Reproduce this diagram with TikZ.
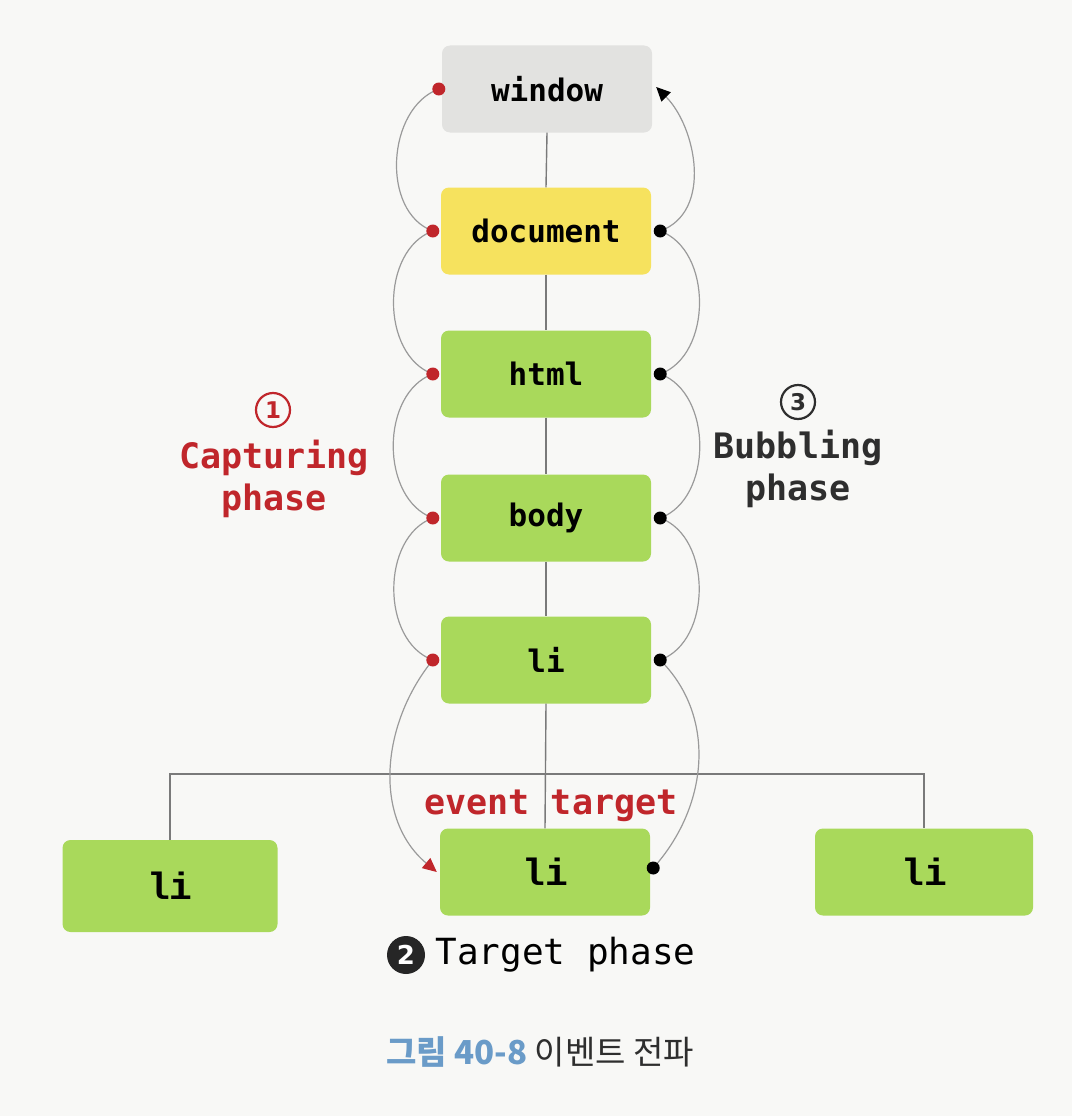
\documentclass[tikz,border=0pt]{standalone}
\usepackage{fontspec}
\usetikzlibrary{arrows.meta}
\newfontfamily\boxfont{DejaVu Sans Mono}
\newfontfamily\slabfont{Liberation Mono}
\newfontfamily\krfont{Noto Sans CJK KR}
\newfontfamily\numfont{DejaVu Sans}
\definecolor{bgcol}{HTML}{F8F8F6}
\definecolor{wincol}{HTML}{E2E2E0}
\definecolor{doccol}{HTML}{F6E25E}
\definecolor{grncol}{HTML}{A9D95B}
\definecolor{capred}{HTML}{C0262B}
\definecolor{bubdark}{HTML}{2E2E2E}
\definecolor{capblue}{HTML}{6A9BC8}
\definecolor{arcgray}{HTML}{9A9A9A}
\definecolor{linegray}{HTML}{7A7A7A}
\tikzset{
  box/.style={rounded corners=8pt, minimum width=210pt, minimum height=87pt, inner sep=0pt,
    font=\boxfont\bfseries\fontsize{31}{33}\selectfont},
  bigbox/.style={box, font=\slabfont\bfseries\fontsize{38}{40}\selectfont},
  arc/.style={draw=arcgray, line width=1.2pt},
  tree/.style={draw=linegray, line width=1.4pt},
  rdot/.style={fill=capred},
  bdot/.style={fill=black},
  lbl/.style={font=\boxfont\bfseries\fontsize{35}{42}\selectfont, align=center},
  numc/.style={circle, line width=2.2pt, minimum size=34pt, inner sep=0pt,
    font=\numfont\bfseries\fontsize{23}{23}\selectfont},
}
\begin{document}
\begin{tikzpicture}[x=1pt,y=1pt]
\fill[bgcol] (0,0) rectangle (1072,-1116);
\useasboundingbox (0,0) rectangle (1072,-1116);

\coordinate (junc) at (546,-774);
\node[box, fill=wincol] (win) at (547,-89) {window};
\node[box, fill=doccol] (doc) at (546,-231) {document};
\node[box, fill=grncol] (html) at (546,-374) {html};
\node[box, fill=grncol] (body) at (546,-518) {body};
\node[box, fill=grncol] (li) at (546,-660) {li};
\node[bigbox, fill=grncol] (tli) at (545,-872) {li};
\node[bigbox, fill=grncol, minimum width=215pt, minimum height=92pt] (lli) at (170,-886) {li};
\node[bigbox, fill=grncol, minimum width=218pt] (rli) at (924,-872) {li};

\draw[tree] (win.south) -- (doc.north);
\draw[tree] (doc.south) -- (html.north);
\draw[tree] (html.south) -- (body.north);
\draw[tree] (body.south) -- (li.north);
\draw[tree] (li.south) -- (tli.north);
\draw[tree] (lli.north) |- (junc) -| (rli.north);

% dot coordinates
\coordinate (cw) at ([xshift=-3pt]win.west);
\coordinate (cd) at ([xshift=-8pt]doc.west);
\coordinate (ch) at ([xshift=-8pt]html.west);
\coordinate (cb) at ([xshift=-8pt]body.west);
\coordinate (cl) at ([xshift=-8pt]li.west);
\coordinate (ct) at ([xshift=-3pt]tli.west);
\coordinate (bw) at ([xshift=4pt,yshift=2pt]win.east);
\coordinate (bd) at ([xshift=9pt]doc.east);
\coordinate (bh) at ([xshift=9pt]html.east);
\coordinate (bb) at ([xshift=9pt]body.east);
\coordinate (bl) at ([xshift=9pt]li.east);
\coordinate (bt) at ([xshift=3pt,yshift=4pt]tli.east);

% capturing arcs
\draw[arc] (cw) to[out=200,in=160] (cd);
\draw[arc] (cd) to[out=200,in=160] (ch);
\draw[arc] (ch) to[out=200,in=160] (cb);
\draw[arc] (cb) to[out=200,in=160] (cl);
\draw[arc, -{Triangle[length=14pt,width=13pt,color=capred]}]
  (cl) to[out=231,in=140] (ct);

% bubbling arcs
\draw[arc] (bt) to[out=48,in=-45] (bl);
\draw[arc] (bl) to[out=20,in=-20] (bb);
\draw[arc] (bb) to[out=20,in=-20] (bh);
\draw[arc] (bh) to[out=20,in=-20] (bd);
\draw[arc, -{Triangle[length=14pt,width=13pt,color=black]}] (bd) to[out=20,in=-45] (bw);

% dots
\foreach \p in {cw,cd,ch,cb,cl} \fill[rdot] (\p) circle (6.5pt);
\foreach \p in {bd,bh,bb,bl,bt} \fill[bdot] (\p) circle (6.5pt);

% labels
\node[numc, draw=capred, text=capred] (c1) at (273,-410) {1};
\node[lbl, text=capred] (cap) at (274,-479) {Capturing\\phase};
\node[numc, draw=bubdark, text=bubdark] (c3) at (798,-402) {3};
\node[lbl, text=bubdark] (bub) at (798,-469) {Bubbling\\phase};
\node[lbl, text=capred] (evt) at (551,-806) {event target};
\node[circle, fill=black!85, minimum size=38pt, inner sep=0pt, text=white,
  font=\numfont\bfseries\fontsize{26}{26}\selectfont] (c2) at (406,-955) {2};
\node[font=\boxfont\fontsize{36}{38}\selectfont, anchor=west] (tp) at (432,-955) {Target phase};
\node[font=\krfont\fontsize{33}{35}\selectfont] (cap2) at (540,-1052)
  {{\color{capblue}\bfseries 그림 40-8} {\color{bubdark}이벤트 전파}};
\end{tikzpicture}
\end{document}
